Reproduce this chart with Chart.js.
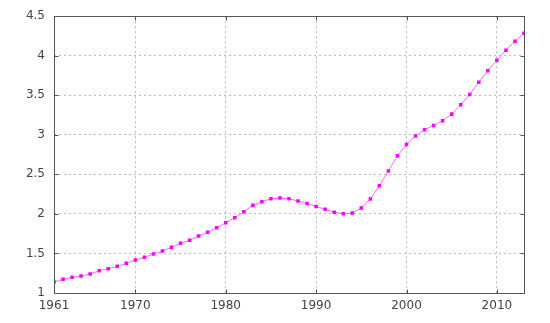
<!DOCTYPE html>
<html><head><meta charset="utf-8">
<script src="https://cdn.jsdelivr.net/npm/chart.js@4/dist/chart.umd.min.js"></script>
<style>html,body{margin:0;padding:0;background:#fff}#wrap{width:550px;height:323px}</style>
</head><body><div id="wrap"><canvas id="c" width="550" height="323"></canvas></div>
<script>
const years = [1961,1962,1963,1964,1965,1966,1967,1968,1969,1970,1971,1972,1973,1974,1975,1976,1977,1978,1979,1980,1981,1982,1983,1984,1985,1986,1987,1988,1989,1990,1991,1992,1993,1994,1995,1996,1997,1998,1999,2000,2001,2002,2003,2004,2005,2006,2007,2008,2009,2010,2011,2012,2013];
const values = [1.139,1.173,1.198,1.215,1.240,1.282,1.307,1.337,1.375,1.417,1.451,1.493,1.531,1.577,1.628,1.666,1.720,1.767,1.825,1.887,1.952,2.027,2.108,2.154,2.192,2.200,2.192,2.163,2.133,2.095,2.058,2.020,2.002,2.011,2.076,2.188,2.356,2.543,2.735,2.878,2.984,3.064,3.119,3.178,3.262,3.380,3.511,3.666,3.809,3.944,4.070,4.184,4.285];
const xTicks = [1961,1970,1980,1990,2000,2010];
const yTicks = [1,1.5,2,2.5,3,3.5,4,4.5];

const frame = {
  id:'frame',
  afterDraw(chart){
    const {ctx, chartArea:a, scales} = chart;
    ctx.save();
    ctx.strokeStyle='#555';
    ctx.lineWidth=1;
    const L=Math.round(a.left)+0.5, R=Math.round(a.right)+0.5, T=Math.round(a.top)+0.5, B=Math.round(a.bottom)+0.5;
    ctx.strokeRect(L, T, R-L, B-T);
    ctx.beginPath();
    yTicks.forEach(v=>{ const y=Math.round(scales.y.getPixelForValue(v))+0.5; ctx.moveTo(L,y); ctx.lineTo(L+4,y); ctx.moveTo(R,y); ctx.lineTo(R-4,y); });
    xTicks.forEach(v=>{ const x=Math.round(scales.x.getPixelForValue(v))+0.5; ctx.moveTo(x,B); ctx.lineTo(x,B-4); ctx.moveTo(x,T); ctx.lineTo(x,T+4); });
    ctx.stroke();
    ctx.restore();
  }
};

new Chart(document.getElementById('c'), {
  type:'line',
  data:{ datasets:[{
    data: years.map((y,i)=>({x:y,y:values[i]})),
    borderColor:'#ff66ff', borderWidth:1,
    pointStyle:'rect', pointRadius:2.5, pointBackgroundColor:'#ff00ff', pointBorderColor:'#ff00ff', pointBorderWidth:0,
    tension:0
  }]},
  options:{
    responsive:false, animation:false, devicePixelRatio:1,
    layout:{padding:{left:0,right:26,top:16,bottom:0}},
    plugins:{legend:{display:false},tooltip:{enabled:false}},
    scales:{
      x:{type:'linear', min:1961, max:2013,
        afterBuildTicks(s){ s.ticks = xTicks.map(v=>({value:v})); },
        afterFit(s){ s.height = 30; },
        grid:{color:'#b8b8b8', lineWidth:1, drawTicks:false},
        border:{display:false, dash:[2,3]},
        ticks:{color:'#444', font:{family:'DejaVu Sans', size:12}, padding:6, maxRotation:0, autoSkip:false, callback:v=>String(v)}
      },
      y:{type:'linear', min:1, max:4.5,
        afterBuildTicks(s){ s.ticks = yTicks.map(v=>({value:v})); },
        afterFit(s){ s.width = 54; },
        grid:{color:'#b8b8b8', lineWidth:1, drawTicks:false},
        border:{display:false, dash:[2,3]},
        ticks:{color:'#444', font:{family:'DejaVu Sans', size:12}, padding:9, callback:v=>String(v)}
      }
    }
  },
  plugins:[frame]
});
</script></body></html>
